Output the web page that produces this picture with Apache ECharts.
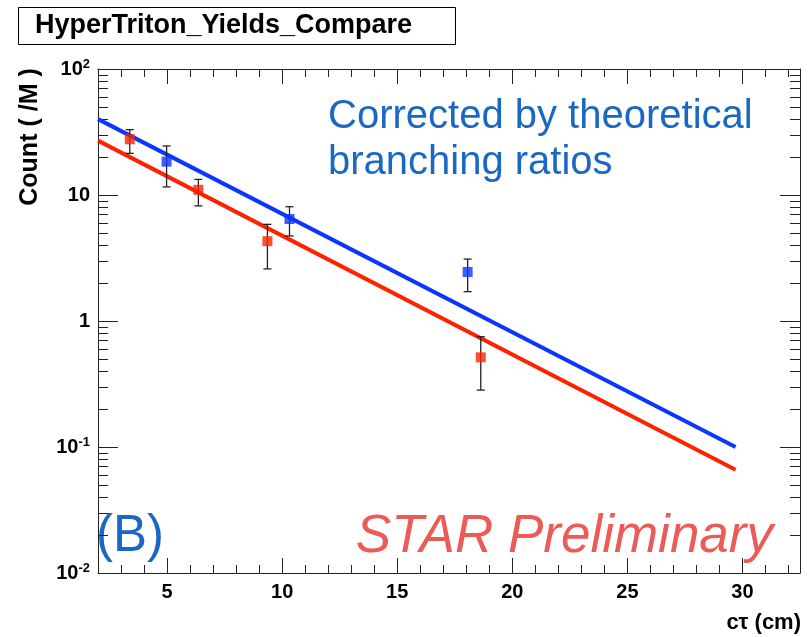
<!DOCTYPE html>
<html>
<head>
<meta charset="utf-8">
<script src="https://cdn.jsdelivr.net/npm/echarts@6/dist/echarts.min.js"></script>
<style>
html,body{margin:0;padding:0;background:#fff;}
#chart{width:809px;height:637px;}
</style>
</head>
<body>
<div id="chart"></div>
<script>
// ---- data ----
var blueFitX = [2, 29.7];
var blueFitY = [40, 0.1];
var redFitX = [2, 29.7];
var redFitY = [27, 0.066];

var blueX = [4.98, 10.32, 18.06];
var blueY = [18.4, 6.45, 2.45];
var blueLow = [11.6, 4.73, 1.71];
var blueHigh = [24.5, 8.07, 3.1];

var redX = [3.38, 6.36, 9.36, 18.63];
var redY = [27.7, 11.0, 4.3, 0.515];
var redLow = [21.4, 8.2, 2.59, 0.283];
var redHigh = [33, 13.3, 5.85, 0.75];

var xMajorTicks = [5, 10, 15, 20, 25, 30];
var xMinorTicks = [3, 4, 6, 7, 8, 9, 11, 12, 13, 14, 16, 17, 18, 19, 21, 22, 23, 24, 26, 27, 28, 29, 31, 32];
var yMajorTicks = [0.01, 0.1, 1, 10, 100];
var yMajorLabels = ['10{sup|-2}', '10{sup|-1}', '1', '10', '10{sup|2}'];
var yMinorTicks = [0.02, 0.03, 0.04, 0.05, 0.06, 0.07, 0.08, 0.09,
                   0.2, 0.3, 0.4, 0.5, 0.6, 0.7, 0.8, 0.9,
                   2, 3, 4, 5, 6, 7, 8, 9,
                   20, 30, 40, 50, 60, 70, 80, 90];

var titleText = 'HyperTriton_Yields_Compare';
var yTitle = 'Count ( /M )';
var xTitle = 'c\u03c4 (cm)';
var noteText = 'Corrected by theoretical\nbranching ratios';

var BLUE = '#0a36ff';
var RED = '#ff2200';
var FONT = '"Liberation Sans", Arial, Helvetica, sans-serif';

function zip(xs, ys) { return xs.map(function (x, i) { return [x, ys[i]]; }); }
function errData(xs, lo, hi) { return xs.map(function (x, i) { return [x, lo[i], hi[i]]; }); }

var X_MIN = 2, X_MAX = 32.5, Y_MIN = 0.01, Y_MAX = 100;
var axisCol = '#222';

function xAx(pos, vals, len, showLabel, showLine) {
  return {
    type: 'value', position: pos, min: X_MIN, max: X_MAX,
    axisLine: {show: showLine, lineStyle: {color: axisCol, width: 1}},
    splitLine: {show: false},
    axisTick: {show: true, inside: true, length: len, customValues: vals, lineStyle: {color: axisCol, width: 1}},
    axisLabel: showLabel ? {show: true, customValues: vals, margin: 9, color: '#000', fontSize: 20, fontWeight: 'bold', fontFamily: FONT} : {show: false}
  };
}
function yAx(pos, vals, len, showLabel, showLine) {
  return {
    type: 'log', logBase: 10, position: pos, min: Y_MIN, max: Y_MAX,
    axisLine: {show: showLine, lineStyle: {color: axisCol, width: 1}},
    splitLine: {show: false},
    axisTick: {show: true, inside: true, length: len, customValues: vals, lineStyle: {color: axisCol, width: 1}},
    axisLabel: showLabel ? {
      show: true, customValues: vals, margin: 8, color: '#000', fontSize: 20, fontWeight: 'bold', fontFamily: FONT,
      formatter: function (v) {
        for (var i = 0; i < yMajorTicks.length; i++) {
          if (Math.abs(Math.log10(v) - Math.log10(yMajorTicks[i])) < 1e-6) return yMajorLabels[i];
        }
        return '';
      },
      rich: {sup: {fontSize: 13, fontWeight: 'bold', fontFamily: FONT, color: '#000', verticalAlign: 'top', padding: [0, 0, 10, 0]}}
    } : {show: false}
  };
}

function errRender(color) {
  return function (params, api) {
    var x = api.value(0);
    var p1 = api.coord([x, api.value(1)]);
    var p2 = api.coord([x, api.value(2)]);
    var cw = 4;
    var st = {stroke: '#222', lineWidth: 1.3};
    return {
      type: 'group',
      children: [
        {type: 'line', shape: {x1: p1[0], y1: p1[1], x2: p2[0], y2: p2[1]}, style: st},
        {type: 'line', shape: {x1: p1[0] - cw, y1: p1[1], x2: p1[0] + cw, y2: p1[1]}, style: st},
        {type: 'line', shape: {x1: p2[0] - cw, y1: p2[1], x2: p2[0] + cw, y2: p2[1]}, style: st}
      ]
    };
  };
}

var chart = echarts.init(document.getElementById('chart'), null, {renderer: 'canvas'});
chart.setOption({
  backgroundColor: '#fff',
  animation: false,
  grid: {left: 98, right: 9, top: 69, bottom: 64, containLabel: false},
  xAxis: [
    xAx('bottom', xMajorTicks, 15, true, true),
    xAx('bottom', xMinorTicks, 8, false, false),
    xAx('top', xMajorTicks, 15, false, true),
    xAx('top', xMinorTicks, 8, false, false)
  ],
  yAxis: [
    yAx('left', yMajorTicks, 20, true, true),
    yAx('left', yMinorTicks, 10, false, false),
    yAx('right', yMajorTicks, 20, false, true),
    yAx('right', yMinorTicks, 10, false, false)
  ],
  series: [
    {type: 'line', data: zip(redFitX, redFitY), showSymbol: false, symbol: 'none', lineStyle: {color: RED, width: 4}, z: 2},
    {type: 'line', data: zip(blueFitX, blueFitY), showSymbol: false, symbol: 'none', lineStyle: {color: BLUE, width: 4}, z: 2},
    {type: 'custom', data: errData(blueX, blueLow, blueHigh), renderItem: errRender(BLUE), z: 3},
    {type: 'custom', data: errData(redX, redLow, redHigh), renderItem: errRender(RED), z: 3},
    {type: 'scatter', data: zip(blueX, blueY), symbol: 'rect', symbolSize: 10, itemStyle: {color: BLUE}, z: 4},
    {type: 'scatter', data: zip(redX, redY), symbol: 'rect', symbolSize: 10, itemStyle: {color: RED}, z: 4}
  ],
  graphic: [
    {type: 'rect', shape: {x: 18.5, y: 7.5, width: 437, height: 37}, style: {fill: '#fff', stroke: '#000', lineWidth: 1}},
    {type: 'text', x: 35, y: 26, style: {text: titleText, font: 'bold 27px ' + FONT, fill: '#000', textVerticalAlign: 'middle'}},
    {type: 'text', x: 30, y: 137, rotation: Math.PI / 2, style: {text: yTitle, font: 'bold 25px ' + FONT, fill: '#000', textAlign: 'center', textVerticalAlign: 'middle'}},
    {type: 'text', x: 801, y: 623, style: {text: xTitle, font: 'bold 22px ' + FONT, fill: '#000', textAlign: 'right', textVerticalAlign: 'middle'}},
    {type: 'text', x: 328, y: 94, style: {text: noteText, font: '40px ' + FONT, fill: '#1a68c4', lineHeight: 46}},
    {type: 'text', x: 96, y: 537, style: {text: '(B)', font: '51px ' + FONT, fill: '#1a68c4', textVerticalAlign: 'middle'}},
    {type: 'text', x: 773, y: 537, style: {text: 'STAR Preliminary', font: 'italic 53px ' + FONT, fill: '#eb5b57', textAlign: 'right', textVerticalAlign: 'middle'}}
  ]
});
</script>
</body>
</html>
